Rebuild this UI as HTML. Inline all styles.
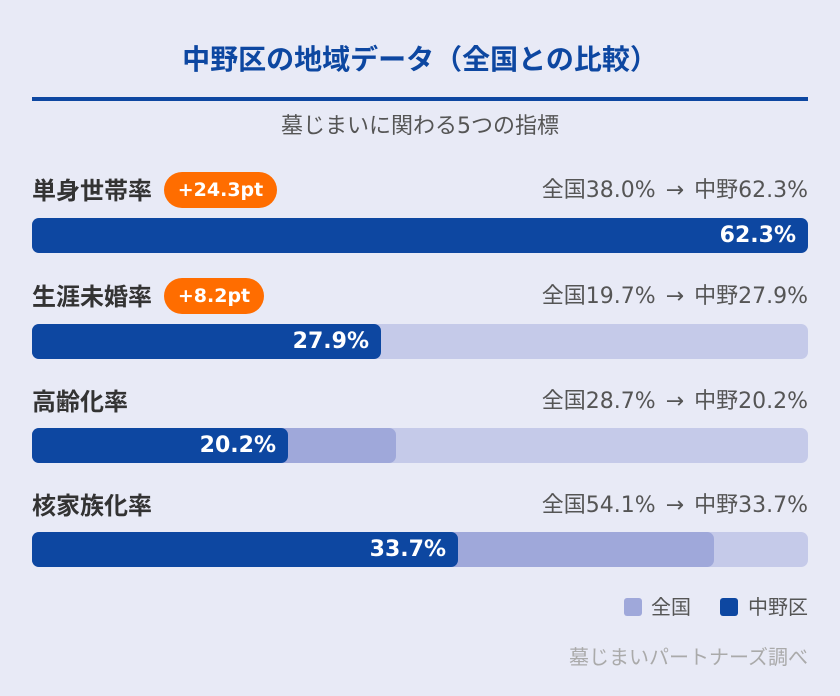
<!DOCTYPE html>
<html><head><meta charset="utf-8"><style>
*{margin:0;padding:0;box-sizing:border-box}
body{width:840px;height:696px;background:#e8eaf6;font-family:"DejaVu Sans","Noto Sans CJK JP",sans-serif;position:relative;overflow:hidden}
.a{position:absolute;white-space:nowrap}
.title{left:0;width:840px;top:40px;text-align:center;font-size:28px;font-weight:bold;color:#0d47a1;line-height:40px}
.rule{left:32px;width:776px;top:97px;height:4px;background:#0d47a1}
.sub{left:0;width:840px;top:112px;text-align:center;font-size:22px;color:#555;line-height:30px}
.lab{left:32px;font-size:24px;font-weight:bold;color:#333;line-height:30px}
.cmp{right:32px;font-size:22px;color:#555;line-height:30px;word-spacing:3px}
.badge{left:164px;height:36px;border-radius:18px;background:#ff6d00;color:#fff;font-weight:bold;font-size:19px;display:flex;align-items:center;justify-content:center}
.track{left:32px;width:776px;height:35px;border-radius:7px;background:#c5cae9}
.nat{left:32px;height:35px;border-radius:7px;background:#9fa8da}
.loc{left:32px;height:35px;border-radius:7px;background:#0d47a1;color:#fff;font-weight:bold;font-size:22px;display:flex;align-items:center;justify-content:flex-end;padding-right:12px}
.sq{width:18px;height:18px;border-radius:3px;top:598px}
.lg{top:592px;font-size:20px;color:#555;line-height:30px}
.foot{right:32px;top:642px;font-size:20px;color:#aaa;line-height:30px}
</style></head><body>
<div class="a title">中野区の地域データ（全国との比較）</div>
<div class="a rule"></div>
<div class="a sub">墓じまいに関わる5つの指標</div>

<div class="a lab" style="top:176px">単身世帯率</div>
<div class="a badge" style="top:172px;width:113px">+24.3pt</div>
<div class="a cmp" style="top:176px">全国38.0% → 中野62.3%</div>
<div class="a track" style="top:218px"></div>
<div class="a loc" style="top:218px;width:776px">62.3%</div>

<div class="a lab" style="top:282px">生涯未婚率</div>
<div class="a badge" style="top:278px;width:100px">+8.2pt</div>
<div class="a cmp" style="top:282px">全国19.7% → 中野27.9%</div>
<div class="a track" style="top:324px"></div>
<div class="a nat" style="top:324px;width:249px"></div>
<div class="a loc" style="top:324px;width:349px">27.9%</div>

<div class="a lab" style="top:387px">高齢化率</div>
<div class="a cmp" style="top:387px">全国28.7% → 中野20.2%</div>
<div class="a track" style="top:428px"></div>
<div class="a nat" style="top:428px;width:364px"></div>
<div class="a loc" style="top:428px;width:256px">20.2%</div>

<div class="a lab" style="top:491px">核家族化率</div>
<div class="a cmp" style="top:491px">全国54.1% → 中野33.7%</div>
<div class="a track" style="top:532px"></div>
<div class="a nat" style="top:532px;width:682px"></div>
<div class="a loc" style="top:532px;width:426px">33.7%</div>

<div class="a sq" style="left:624px;background:#9fa8da"></div>
<div class="a lg" style="left:651px">全国</div>
<div class="a sq" style="left:720px;background:#0d47a1"></div>
<div class="a lg" style="left:748px">中野区</div>
<div class="a foot">墓じまいパートナーズ調べ</div>
</body></html>
